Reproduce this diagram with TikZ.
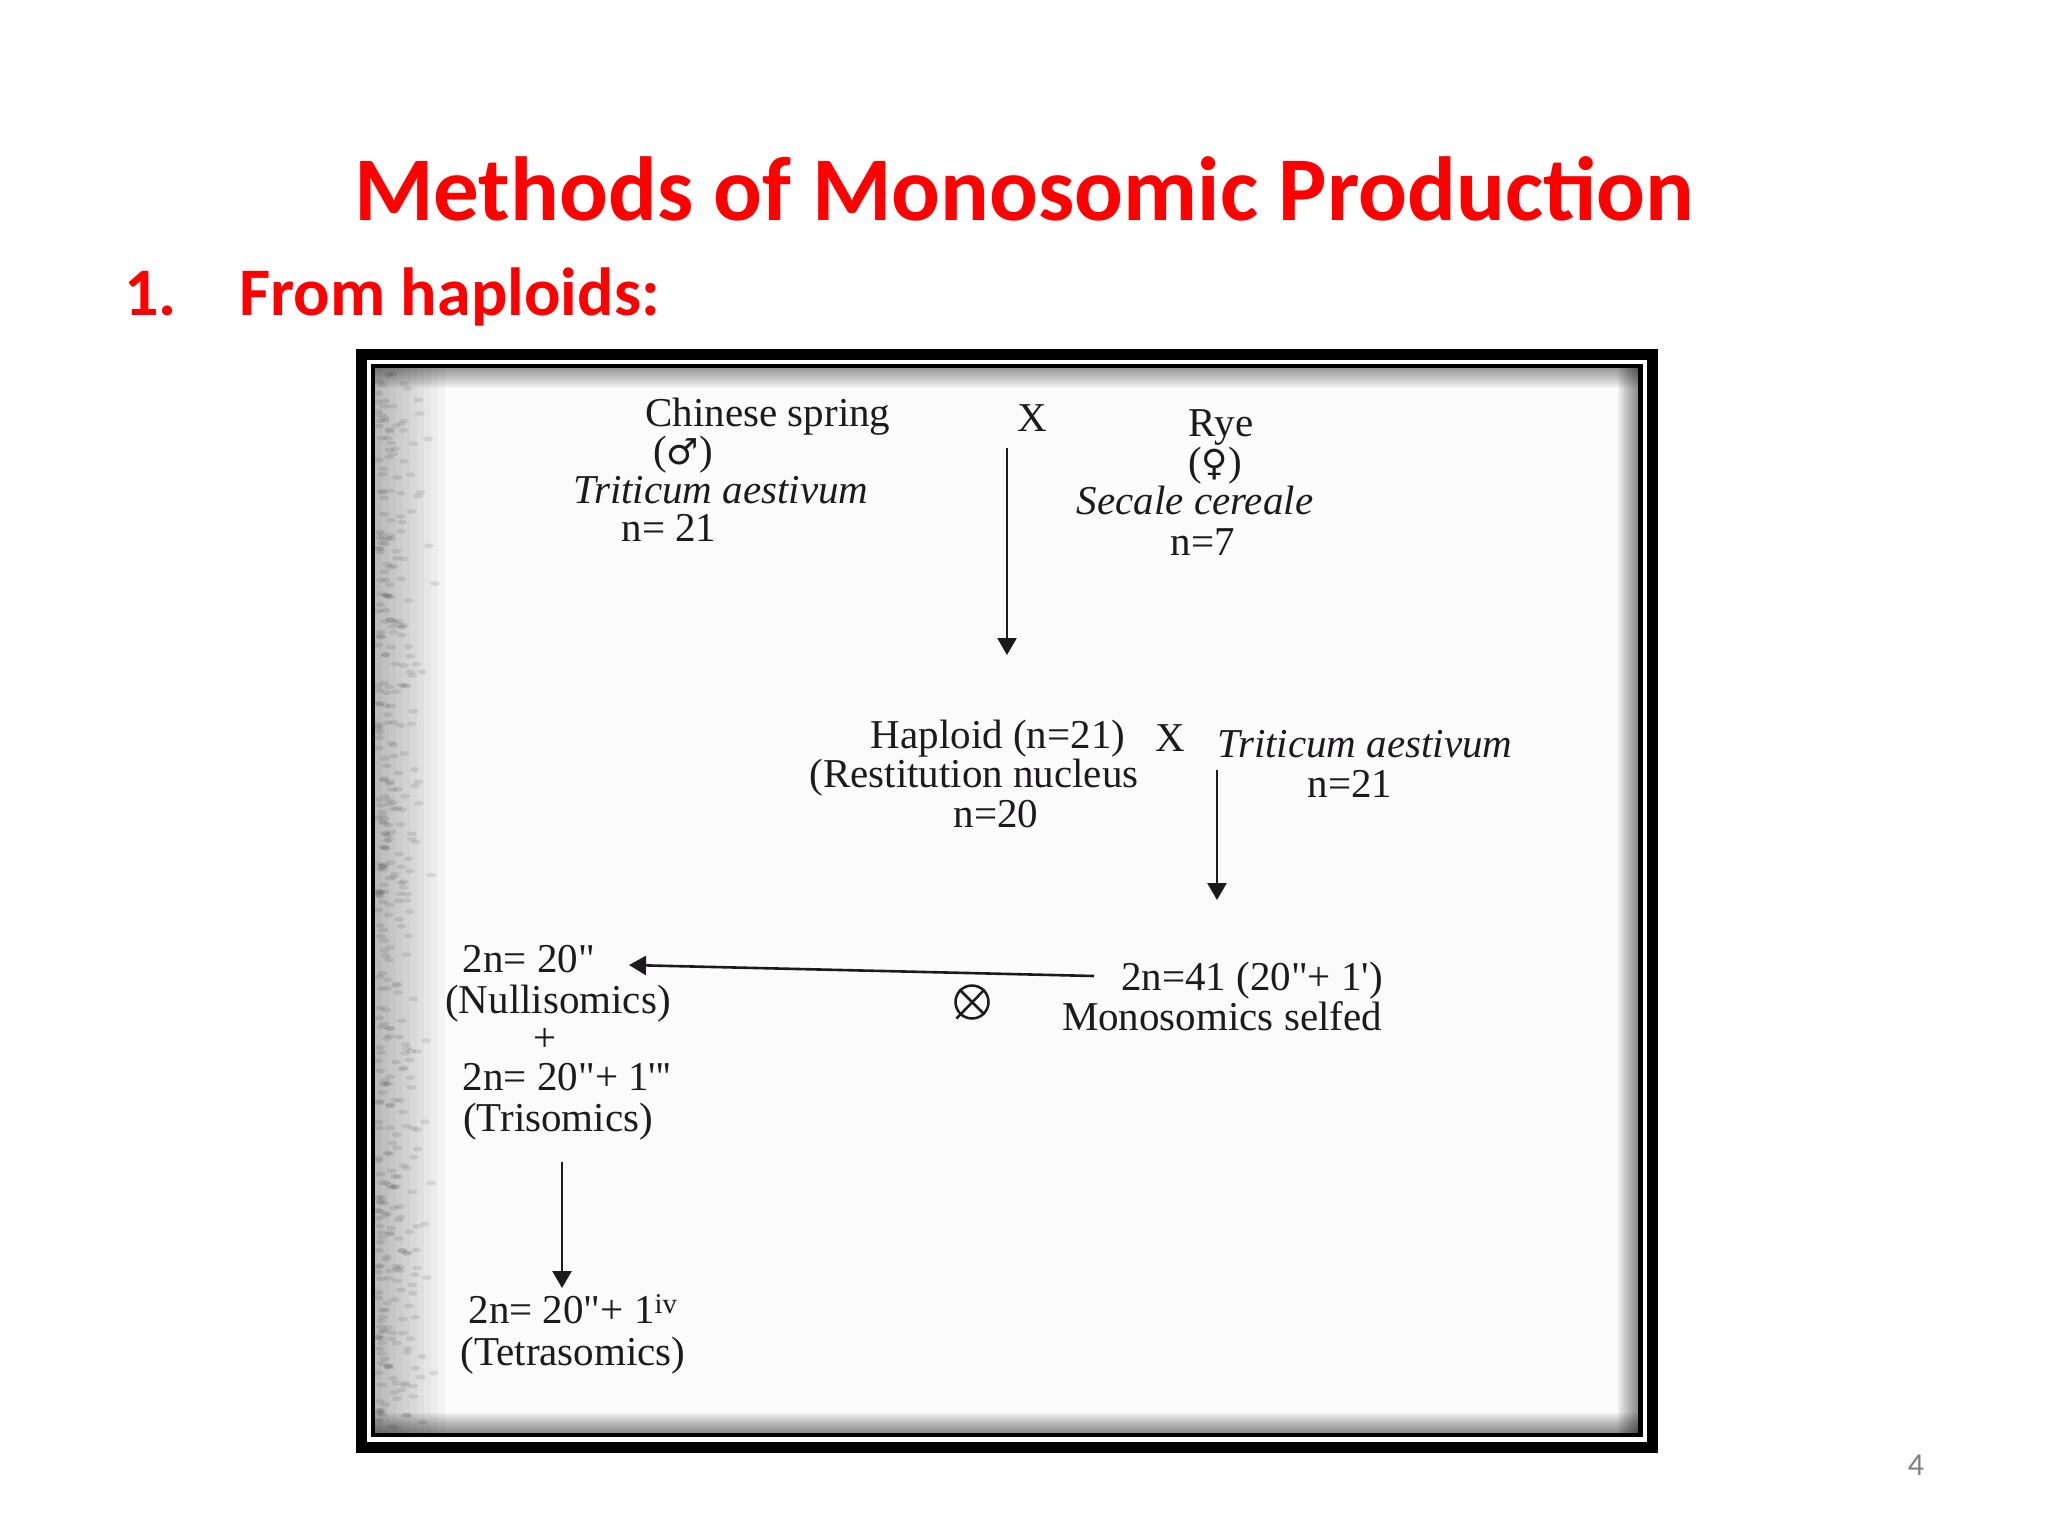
\documentclass[tikz,border=0pt]{standalone}
\usepackage{fontspec}
\setmainfont{Liberation Serif}
\newfontfamily\titlefont{Carlito}
\newfontfamily\dfont{Liberation Serif}[Ligatures=TeXOff]
\newfontfamily\symfont{DejaVu Sans}
\usetikzlibrary{arrows.meta}
\definecolor{pagecol}{RGB}{252,251,252}
\definecolor{inkcol}{RGB}{28,26,28}
\begin{document}
\begin{tikzpicture}[x=1pt,y=-1pt,
  lbl/.style={font=\dfont\fontsize{41}{44}\selectfont, text=inkcol, inner sep=0pt, anchor=base},
  ilbl/.style={lbl, font=\dfont\itshape\fontsize{41}{44}\selectfont},
  arr/.style={line width=2.6pt, draw=inkcol, -{Triangle[length=17pt,width=19pt]}},
  headline/.style={font=\titlefont\bfseries\fontsize{91}{100}\selectfont, text=red, inner sep=0pt, anchor=base},
  subline/.style={font=\titlefont\bfseries\fontsize{68}{74}\selectfont, text=red, inner sep=0pt, anchor=base west},
  shadowstrip/.style={fill=black, opacity=#1},
]
\useasboundingbox (0,0) rectangle (2048,1536);
\fill[white] (0,0) rectangle (2048,1536);

% titles
\node[headline] (title) at (1024,220) {Methods of Monosomic Production};
\node[subline] (num) at (124,315) {1.};
\node[subline] (sub) at (239,315) {From haploids:};
\node[font=\titlefont\fontsize{32}{34}\selectfont, text=black!50, inner sep=0pt] (pg) at (1916,1465) {4};

% scanned page with inner shadow
\fill[pagecol] (375,368) rectangle (1638,1433);
\foreach \k in {1,...,10}{
  \fill[shadowstrip=0.045] (375,368) rectangle (1638,368+2*\k);
  \fill[shadowstrip=0.05] (1638-2*\k,368) rectangle (1638,1433);
  \fill[shadowstrip=0.05] (375,1433-2*\k) rectangle (1638,1433);
  \fill[shadowstrip=0.028] (375,368) rectangle (375+7*\k,1433);
}
\pgfmathsetseed{4217}
\foreach \i in {1,...,420}{
  \pgfmathsetmacro\xx{378+60*rnd*rnd}
  \pgfmathsetmacro\yy{372+1056*rnd}
  \fill[black, opacity=0.09] (\xx,\yy) ellipse (5 and 2.5);
}

% frame
\draw[line width=11pt] (361.5,354.5) rectangle (1652.5,1447.5);
\draw[line width=4.5pt] (373,366) rectangle (1640.5,1435);

% first cross
\node[lbl] (cs) at (768,426) {Chinese spring};
\node[lbl] (male) at (683,464) {({\symfont\fontsize{36}{40}\selectfont ♂})};
\node[ilbl] (ta1) at (721,503) {Triticum aestivum};
\node[lbl] (n21a) at (669,541) {n= 21};
\node[lbl] (x1) at (1032,431) {X};
\node[lbl] (rye) at (1221,436) {Rye};
\node[lbl] (female) at (1215,475) {({\symfont\fontsize{36}{40}\selectfont ♀})};
\node[ilbl] (sc) at (1195,514) {Secale cereale};
\node[lbl] (n7) at (1203,555) {n=7};

\coordinate (a1s) at (1007,448);
\coordinate (a1e) at (1007,655);
\draw[arr] (a1s) -- (a1e);

% second cross
\node[lbl] (hap) at (998,748) {Haploid (n=21)};
\node[lbl] (x2) at (1170,751) {X};
\node[ilbl] (ta2) at (1365,757) {Triticum aestivum};
\node[lbl] (rest) at (974,787) {(Restitution nucleus};
\node[lbl] (n20) at (996,827) {n=20};
\node[lbl] (n21b) at (1350,797) {n=21};

\coordinate (a2s) at (1217,770);
\coordinate (a2e) at (1217,900);
\draw[arr] (a2s) -- (a2e);

% monosomics
\node[lbl] (mono) at (1252,990) {2n=41 (20"+ 1')};
\node[lbl] (self) at (1222,1030) {Monosomics selfed};
\node[draw=inkcol, line width=2.5pt, circle, minimum size=33pt, inner sep=0pt] (selfsym) at (972,1002) {};
\draw[line width=2.5pt, inkcol] (selfsym.north west) -- (selfsym.south east);
\draw[line width=2.5pt, inkcol] (selfsym.north east) -- ([shift={(-3,4)}]selfsym.south west);

\coordinate (a3s) at (1094,976);
\coordinate (a3e) at (629,965);
\draw[arr] (a3s) -- (a3e);

% left column
\node[lbl] (nullc) at (529,972) {2n= 20"};
\node[lbl] (nullt) at (558,1013) {(Nullisomics)};
\node[lbl] (plus) at (545,1051) {+};
\node[lbl] (tric) at (567,1090) {2n= 20"+ 1'''};
\node[lbl] (trit) at (558,1131) {(Trisomics)};

\coordinate (a4s) at (562,1162);
\coordinate (a4e) at (562,1288);
\draw[arr] (a4s) -- (a4e);

\node[lbl] (tetc) at (573,1323) {2n= 20"+ 1\textsuperscript{iv}};
\node[lbl] (tett) at (573,1365) {(Tetrasomics)};
\end{tikzpicture}
\end{document}
